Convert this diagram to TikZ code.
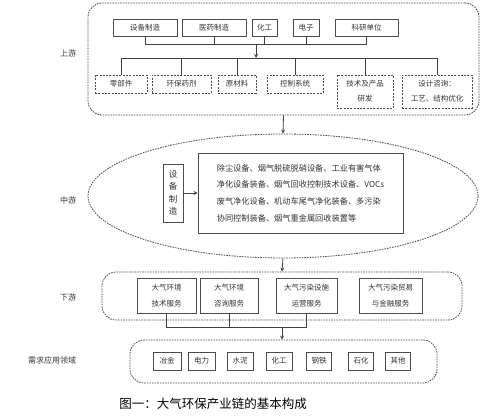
\documentclass[tikz,border=0pt]{standalone}
\usepackage{fontspec}
\setmainfont{Noto Sans CJK SC}
\usetikzlibrary{shapes.geometric, arrows, positioning}
\tikzstyle{box} = [rectangle, minimum height=17pt, inner sep=1pt, align=center, draw=black!70, thick, font=\fontsize{7.5}{9}\selectfont, text=black!80]
\tikzstyle{dbox} = [box, dash pattern=on 2pt off 1.3pt]
\tikzstyle{group} = [rectangle, rounded corners=14pt, draw=black!70, thick, dash pattern=on 1.6pt off 1pt]
\tikzstyle{stage} = [font=\fontsize{8}{10}\selectfont, text=black!80]
\tikzstyle{arrow} = [thick, black!75, ->, >=stealth]
\tikzstyle{link} = [thick, black!75]

\begin{document}
\begin{tikzpicture}[x=1pt, y=-1pt]
            \useasboundingbox (0,0) rectangle (495,415);
            % Upstream
            \node (upGroup) [group, minimum width=391pt, minimum height=112pt] at (283.5,59) {};
            \node (upLabel) [stage] at (68,53) {上游};
            \node (equip) [box, minimum width=64pt] at (145,27.5) {设备制造};
            \node (pharma) [box, minimum width=64pt] at (214,27.5) {医药制造};
            \node (chem) [box, minimum width=25pt] at (264.5,27.5) {化工};
            \node (elec) [box, minimum width=26pt] at (306,27.5) {电子};
            \node (research) [box, minimum width=63pt] at (366.5,27.5) {科研单位};

            \node (parts) [dbox, minimum width=52pt, minimum height=18pt] at (121,84) {零部件};
            \node (agent) [dbox, minimum width=59pt, minimum height=18pt] at (181.5,84) {环保药剂};
            \node (material) [dbox, minimum width=38pt, minimum height=18pt] at (237,84) {原材料};
            \node (control) [dbox, minimum width=56pt, minimum height=18pt] at (295,84) {控制系统};
            \node (rnd) [dbox, minimum width=56pt, minimum height=33pt, font=\fontsize{7.5}{15}\selectfont] at (365,91.5) {技术及产品\\研发};
            \node (design) [dbox, minimum width=70pt, minimum height=33pt, font=\fontsize{7.5}{15}\selectfont] at (437,91.5) {设计咨询：\\工艺、结构优化};

            \coordinate (busTop) at (256,44);
            \coordinate (busLow) at (256,58);

            % Midstream
            \node (midEll) [ellipse, draw=black!70, thick, dash pattern=on 1.6pt off 1pt, minimum width=390pt, minimum height=124pt] at (283,196) {};
            \node (midLabel) [stage] at (68,200) {中游};
            \node (vequip) [box, minimum width=20pt, minimum height=58pt, font=\fontsize{8.5}{12.5}\selectfont] at (173,193) {设\\备\\制\\造};
            \node (devices) [box, minimum width=205pt, minimum height=80pt, align=left, font=\fontsize{8.2}{16.7}\selectfont] at (300.5,193) {%
              除尘设备、烟气脱硫脱硝设备、工业有害气体\\
              净化设备装备、烟气回收控制技术设备、VOCs\\
              废气净化设备、机动车尾气净化装备、多污染\\
              协同控制装备、烟气重金属回收装置等};

            % Downstream
            \node (downGroup) [group, minimum width=360pt, minimum height=48pt] at (282,296) {};
            \node (downLabel) [stage] at (68,297) {下游};
            \node (techSrv) [box, minimum width=59pt, minimum height=35pt, font=\fontsize{7.5}{16}\selectfont] at (166.5,295.5) {大气环境\\技术服务};
            \node (consSrv) [box, minimum width=58pt, minimum height=35pt, font=\fontsize{7.5}{16}\selectfont] at (229,295.5) {大气环境\\咨询服务};
            \node (operSrv) [box, minimum width=61pt, minimum height=35pt, font=\fontsize{7.5}{16}\selectfont] at (306.5,295.5) {大气污染设施\\运营服务};
            \node (tradeSrv) [box, minimum width=63pt, minimum height=35pt, font=\fontsize{7.5}{16}\selectfont] at (390.5,295.5) {大气污染贸易\\与金融服务};
            \coordinate (busDown) at (282,327);

            % Demand
            \node (demGroup) [group, minimum width=307pt, minimum height=43pt] at (283.5,361.5) {};
            \node (demLabel) [stage] at (52,360) {需求应用领域};
            \node (metal) [box, minimum width=28pt, minimum height=18pt] at (167,361) {冶金};
            \node (power) [box, minimum width=27pt, minimum height=18pt] at (201.5,361) {电力};
            \node (cement) [box, minimum width=26pt, minimum height=18pt] at (240,361) {水泥};
            \node (chemInd) [box, minimum width=26pt, minimum height=18pt] at (279,361) {化工};
            \node (steel) [box, minimum width=25pt, minimum height=18pt] at (319,361) {钢铁};
            \node (petro) [box, minimum width=25pt, minimum height=18pt] at (361,361) {石化};
            \node (others) [box, minimum width=25pt, minimum height=18pt] at (398,361) {其他};

            % Caption
            \node (caption) [font=\fontsize{12.5}{14}\selectfont] at (213,404) {图一：大气环保产业链的基本构成};

            % Edges
            \draw [link] (equip.south) -- (equip.south |- busTop) -- (research.south |- busTop) -- (research.south);
            \foreach \n in {pharma, chem, elec}
              \draw [link] (\n.south) -- (\n.south |- busTop);
            \draw [arrow] (busTop) -- (busLow);
            \draw [link] (parts.north) -- (parts.north |- busLow) -- (design.north |- busLow) -- (design.north);
            \foreach \n in {agent, material, control, rnd}
              \draw [link] (\n.north |- busLow) -- (\n.north);
            \draw [arrow] (upGroup.south) -- (midEll.north);
            \draw [arrow] (vequip) -- (devices);
            \draw [arrow] (midEll.south) -- (downGroup.north);
            \draw [link] (techSrv.south) -- (techSrv.south |- busDown) -- (operSrv.south |- busDown) -- (operSrv.south);
            \draw [link] (consSrv.south) -- (consSrv.south |- busDown);
            \draw [arrow] (busDown) -- (busDown |- demGroup.north);
        \end{tikzpicture}
\end{document}
